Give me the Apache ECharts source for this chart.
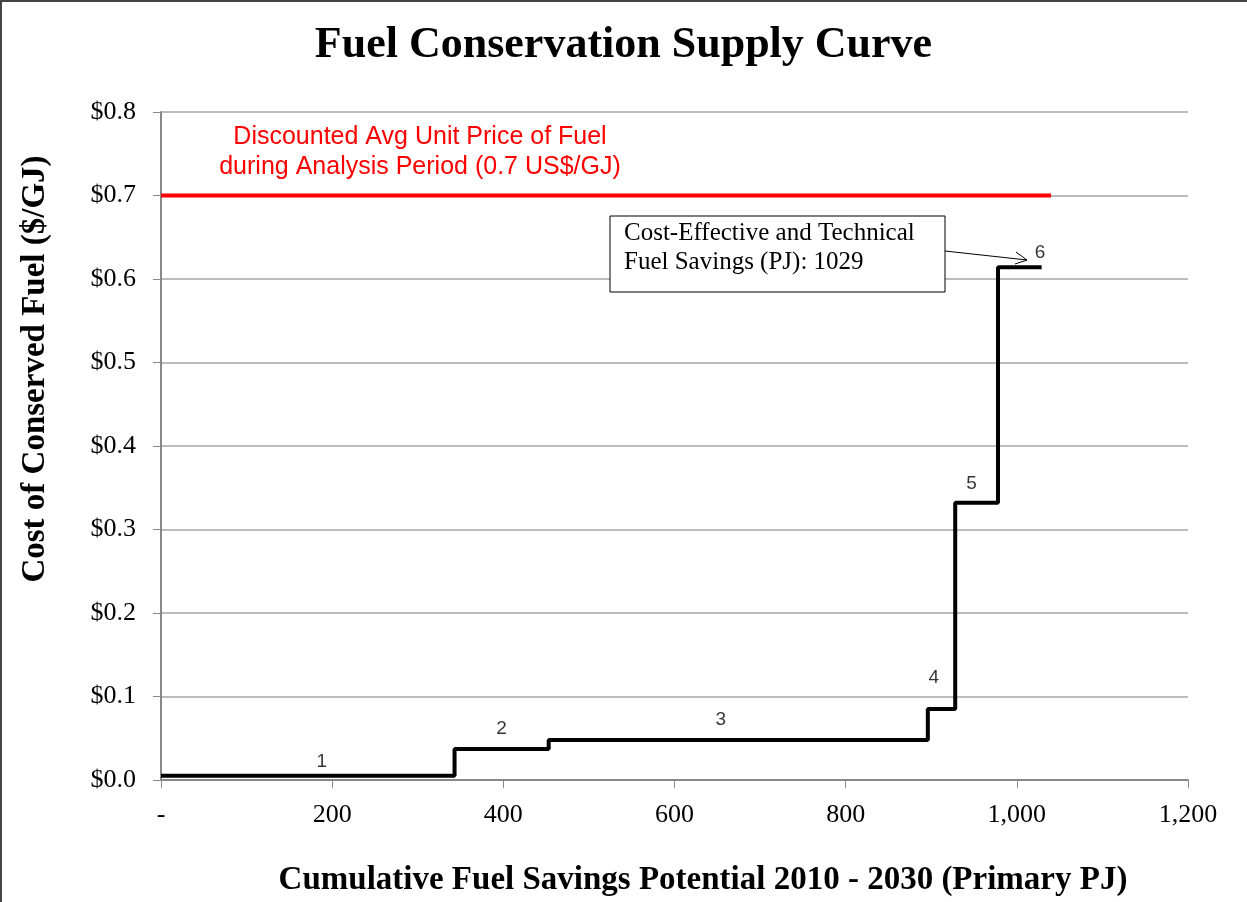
<!DOCTYPE html>
<html><head><meta charset="utf-8">
<script src="https://cdn.jsdelivr.net/npm/echarts@6/dist/echarts.min.js"></script>
<style>html,body{margin:0;padding:0;background:#fff}#c{width:1247px;height:902px}</style>
</head><body><div id="c"></div>
<script>
// Step boundaries (cumulative PJ) and cost per step ($/GJ)
const stepStarts = [0, 343, 453, 896, 928, 978];
const stepEnd = 1029;
const stepCosts = [0.005, 0.037, 0.048, 0.085, 0.332, 0.614];
const stepLabels = ['1', '2', '3', '4', '5', '6'];
const labelX = [188, 398, 654, 903, 947, 1027];
const labelY = [0.022, 0.061, 0.072, 0.123, 0.355, 0.632];
const fuelPrice = 0.7;
const fuelPriceEnd = 1040;
const xTicks = [0, 200, 400, 600, 800, 1000, 1200];
const yTicks = [0, 0.1, 0.2, 0.3, 0.4, 0.5, 0.6, 0.7, 0.8];

const stepData = stepStarts.map((x, i) => [x, stepCosts[i]]);
stepData.push([stepEnd, stepCosts[stepCosts.length - 1]]);
const labelData = stepLabels.map((n, i) => ({ value: [labelX[i], labelY[i]], name: n }));

const chart = echarts.init(document.getElementById('c'));
const serif = '"Liberation Serif", "Times New Roman", serif';
const sans = '"Liberation Sans", Arial, sans-serif';
chart.setOption({
  animation: false,
  backgroundColor: '#fff',
  title: {
    text: 'Fuel Conservation Supply Curve',
    left: 'center', top: 19,
    textStyle: { fontFamily: serif, fontWeight: 'bold', fontSize: 44, color: '#000' }
  },
  grid: { left: 161, right: 59, top: 112, bottom: 122, outerBoundsMode: 'none', containLabel: false },
  xAxis: {
    type: 'value', min: 0, max: 1200, interval: 200,
    axisLine: { show: true, lineStyle: { color: '#888', width: 2 } },
    axisTick: { show: true, length: 8, lineStyle: { color: '#888', width: 1 } },
    splitLine: { show: false },
    axisLabel: {
      margin: 22, fontFamily: serif, fontSize: 26, color: '#000',
      formatter: v => xTicks.includes(v) ? (v === 0 ? '-' : v.toLocaleString('en-US')) : ''
    }
  },
  yAxis: {
    type: 'value', min: 0, max: 0.8, interval: 0.1,
    axisLine: { show: true, lineStyle: { color: '#888', width: 2 } },
    axisTick: { show: true, length: 8, lineStyle: { color: '#888', width: 1 } },
    splitLine: { show: true, lineStyle: { color: '#a6a6a6', width: 1.5 } },
    axisLabel: {
      margin: 25, fontFamily: serif, fontSize: 26, color: '#000',
      formatter: v => '$' + v.toFixed(1)
    }
  },
  series: [
    {
      type: 'line', data: [[0, fuelPrice], [fuelPriceEnd, fuelPrice]],
      symbol: 'none', lineStyle: { color: '#ff0000', width: 4 }, z: 3
    },
    {
      type: 'line', step: 'end', data: stepData,
      symbol: 'none', lineStyle: { color: '#000', width: 4 }, z: 4
    },
    {
      type: 'scatter', data: labelData, symbolSize: 0,
      label: {
        show: true, position: 'inside', formatter: p => p.name,
        fontFamily: sans, fontSize: 19, color: '#000'
      }, z: 5
    }
  ],
  graphic: [
    { type: 'rect', shape: { x: 1, y: 1, width: 1300, height: 1000 },
      style: { fill: 'none', stroke: '#444', lineWidth: 2 }, silent: true },
    { type: 'text', rotation: Math.PI / 2, x: 35, y: 369, style: {
        text: 'Cost of Conserved Fuel ($/GJ)', x: 0, y: 0,
        align: 'center', verticalAlign: 'middle',
        font: 'bold 33px "Liberation Serif", "Times New Roman", serif', fill: '#000'
      } },
    { type: 'text', style: {
        text: 'Cumulative Fuel Savings Potential 2010 - 2030 (Primary PJ)',
        x: 703, y: 880, align: 'center', verticalAlign: 'middle',
        font: 'bold 33px "Liberation Serif", "Times New Roman", serif', fill: '#000'
      } },
    { type: 'text', style: {
        text: 'Discounted Avg Unit Price of Fuel\nduring Analysis Period (0.7 US$/GJ)',
        x: 420, y: 152, align: 'center', verticalAlign: 'middle',
        font: '25px "Liberation Sans", Arial, sans-serif', fill: '#ff0000', lineHeight: 30
      } },
    { type: 'rect', shape: { x: 610, y: 216, width: 335, height: 76 },
      style: { fill: '#fff', stroke: '#000', lineWidth: 1 }, z: 10 },
    { type: 'text', style: {
        text: 'Cost-Effective and Technical\nFuel Savings (PJ): 1029',
        x: 624, y: 219, align: 'left', verticalAlign: 'top',
        font: '25px "Liberation Serif", "Times New Roman", serif', fill: '#000', lineHeight: 29
      }, z: 11 },
    { type: 'line', shape: { x1: 945, y1: 251, x2: 1027, y2: 260 },
      style: { stroke: '#000', lineWidth: 1 }, z: 10 },
    { type: 'polyline', shape: { points: [[1016, 252], [1027, 260], [1015, 264]] },
      style: { stroke: '#000', lineWidth: 1, fill: 'none' }, z: 10 }
  ]
});
</script>
</body></html>
